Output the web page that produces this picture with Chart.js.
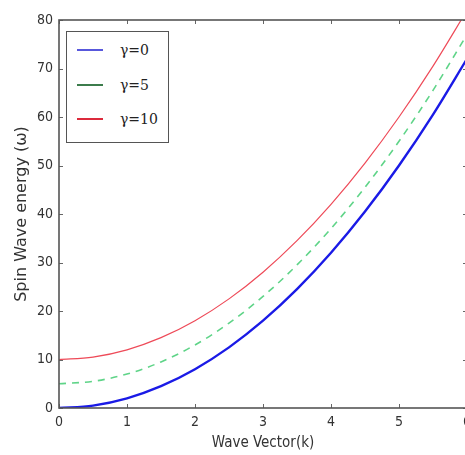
<!DOCTYPE html>
<html lang="en">
<head>
    <meta charset="UTF-8">
    <title>Spin Wave energy</title>
    <style>
        body {
            margin: 0;
            background: #fff;
        }
        #wrap {
            position: relative;
            width: 465px;
            height: 455px;
            overflow: hidden;
        }
        #legend {
            position: absolute;
            left: 66px;
            top: 31px;
            width: 101px;
            height: 110px;
            border: 1.5px solid #555;
            background: #fff;
            font-family: "DejaVu Serif", serif;
            font-size: 14px;
            color: #222;
        }
        .row {
            position: absolute;
            left: 0;
            height: 20px;
            line-height: 20px;
        }
        .sample {
            position: absolute;
            left: 10px;
            top: 9px;
            width: 26px;
            height: 2px;
        }
        .lab {
            position: absolute;
            left: 53px;
            top: 0;
            white-space: nowrap;
        }
    </style>
    <script src="https://cdn.jsdelivr.net/npm/chart.js"></script>
</head>
<body>
    <div id="wrap">
        <canvas id="waveChart" width="480" height="455"></canvas>
        <div id="legend"></div>
    </div>

    <script>
        // wave vector k
        const kValues = [0, 0.5, 1, 1.5, 2, 2.5, 3, 3.5, 4, 4.5, 5, 5.5, 6];
        // energy
        const gamma0 = [0, 0.5, 2, 4.5, 8, 12.5, 18, 24.5, 32, 40.5, 50, 60.5, 72];
        const gamma5 = [5, 5.5, 7, 9.5, 13, 17.5, 23, 29.5, 37, 45.5, 55, 65.5, 77];
        const gamma10 = [10, 10.5, 12, 14.5, 18, 22.5, 28, 34.5, 42, 50.5, 60, 70.5, 82];
        const seriesLabels = ['\u03b3=0', '\u03b3=5', '\u03b3=10'];
        const legendColors = ['#5858dc', '#3c7c4c', '#dc2a3c'];
        const xTicks = [0, 1, 2, 3, 4, 5, 6];
        const yTicks = [0, 10, 20, 30, 40, 50, 60, 70, 80];

        const toPoints = (ys) => kValues.map((k, i) => ({ x: k, y: ys[i] }));
        const tickFont = { family: 'DejaVu Sans Condensed, DejaVu Sans', size: 14 };

        // frame + inward ticks on all four sides, matplotlib style
        const framePlugin = {
            id: 'frame',
            afterDraw(chart) {
                const { ctx, chartArea: a, scales } = chart;
                ctx.save();
                ctx.strokeStyle = '#666';
                ctx.lineWidth = 1;
                xTicks.forEach(v => {
                    const px = Math.round(scales.x.getPixelForValue(v)) + 0.5;
                    ctx.beginPath();
                    ctx.moveTo(px, a.bottom); ctx.lineTo(px, a.bottom - 4);
                    ctx.moveTo(px, a.top); ctx.lineTo(px, a.top + 4);
                    ctx.stroke();
                });
                yTicks.forEach(v => {
                    const py = Math.round(scales.y.getPixelForValue(v)) + 0.5;
                    ctx.beginPath();
                    ctx.moveTo(a.left, py); ctx.lineTo(a.left + 4, py);
                    ctx.moveTo(a.right, py); ctx.lineTo(a.right - 4, py);
                    ctx.stroke();
                });
                ctx.strokeStyle = '#555';
                ctx.lineWidth = 1.6;
                ctx.strokeRect(a.left, a.top, a.right - a.left, a.bottom - a.top);
                ctx.restore();
            }
        };

        const ctx = document.getElementById('waveChart').getContext('2d');
        const chart = new Chart(ctx, {
            type: 'line',
            data: {
                datasets: [{
                    label: seriesLabels[0],
                    data: toPoints(gamma0),
                    borderColor: '#1a1ae6',
                    borderWidth: 2.4,
                    pointRadius: 0,
                    cubicInterpolationMode: 'monotone'
                }, {
                    label: seriesLabels[1],
                    data: toPoints(gamma5),
                    borderColor: '#5fd488',
                    borderWidth: 1.6,
                    borderDash: [7, 6],
                    pointRadius: 0,
                    cubicInterpolationMode: 'monotone'
                }, {
                    label: seriesLabels[2],
                    data: toPoints(gamma10),
                    borderColor: '#ee4a58',
                    borderWidth: 1.2,
                    pointRadius: 0,
                    cubicInterpolationMode: 'monotone'
                }]
            },
            options: {
                responsive: false,
                animation: false,
                layout: { padding: { top: 20, left: 4, right: 13, bottom: 3 } },
                plugins: { legend: { display: false }, tooltip: { enabled: false } },
                scales: {
                    x: {
                        type: 'linear',
                        min: 0,
                        max: 6,
                        afterBuildTicks: (s) => { s.ticks = xTicks.map(v => ({ value: v })); },
                        afterFit: (s) => { s.height = 44; },
                        grid: { display: false, drawTicks: false },
                        border: { display: false },
                        ticks: {
                            color: '#333',
                            padding: 6,
                            maxRotation: 0,
                            font: tickFont
                        },
                        title: {
                            display: true,
                            text: 'Wave Vector(k)',
                            color: '#333',
                            padding: { top: 0, bottom: 0 },
                            font: { family: 'DejaVu Sans Condensed, DejaVu Sans', size: 15 }
                        }
                    },
                    y: {
                        min: 0,
                        max: 80,
                        afterBuildTicks: (s) => { s.ticks = yTicks.map(v => ({ value: v })); },
                        afterFit: (s) => { s.width = 55; },
                        grid: { display: false, drawTicks: false },
                        border: { display: false },
                        ticks: {
                            color: '#333',
                            padding: 6,
                            font: tickFont
                        },
                        title: {
                            display: true,
                            text: 'Spin Wave energy (\u03c9)',
                            color: '#333',
                            padding: { top: 8, bottom: 0 },
                            font: { family: 'DejaVu Sans', size: 16 }
                        }
                    }
                }
            },
            plugins: [framePlugin]
        });

        // legend as html, built from the datasets
        const legend = document.getElementById('legend');
        const rowTops = [8, 43, 77];
        chart.data.datasets.forEach((ds, i) => {
            const row = document.createElement('div');
            row.className = 'row';
            row.style.top = rowTops[i] + 'px';
            const sample = document.createElement('div');
            sample.className = 'sample';
            sample.style.background = legendColors[i];
            const lab = document.createElement('span');
            lab.className = 'lab';
            lab.textContent = ds.label;
            row.appendChild(sample);
            row.appendChild(lab);
            legend.appendChild(row);
        });
    </script>
</body>
</html>
